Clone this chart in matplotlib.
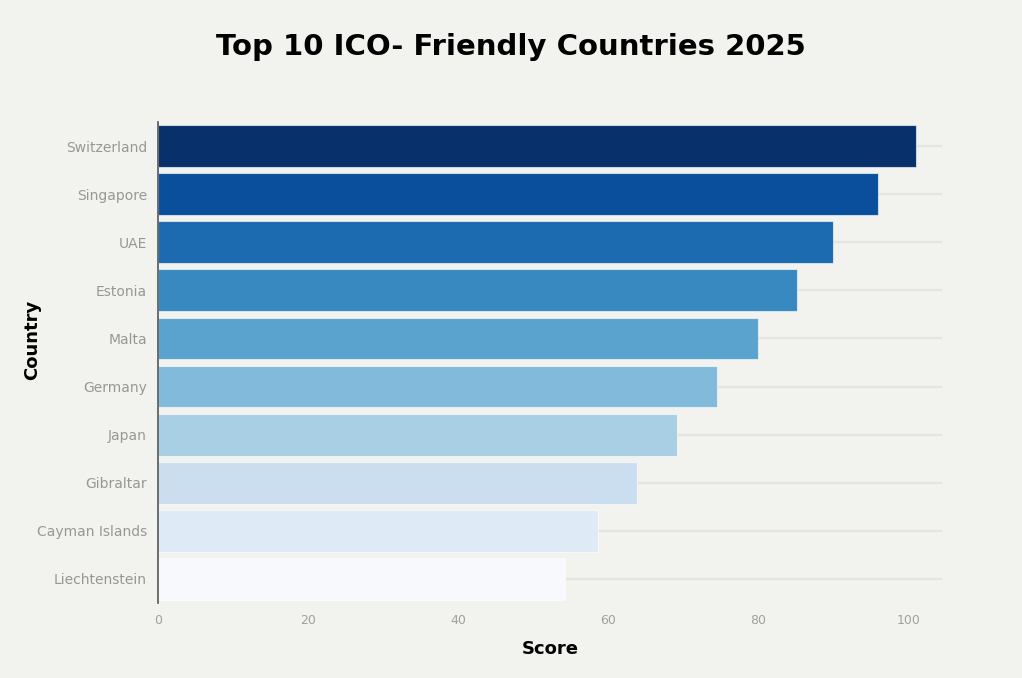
import matplotlib
matplotlib.use("Agg")
import matplotlib.pyplot as plt
import numpy as np

countries = ["Switzerland", "Singapore", "UAE", "Estonia", "Malta", "Germany",
             "Japan", "Gibraltar", "Cayman Islands", "Liechtenstein"]
scores = [101.0, 96.0, 90.0, 85.2, 80.0, 74.5, 69.2, 63.9, 58.6, 54.3]
colors = ["#08306b", "#0a4f9c", "#1c6aaf", "#3989c1", "#5aa3cf",
          "#82badb", "#a9cfe5", "#cadeef", "#deebf7", "#f7f9fd"]
xticks = [0, 20, 40, 60, 80, 100]

bg = "#f2f2ee"
fig = plt.figure(figsize=(10.22, 6.78), dpi=100, facecolor=bg)
ax = fig.add_axes([158/1022, 1-603/678, (942-158)/1022, (603-122)/678])
ax.set_facecolor(bg)

y = np.arange(len(countries))
for yi in y:
    ax.axhline(yi, color="#e4e4e0", lw=1.6, zorder=0)
ax.barh(y, scores, height=0.87, color=colors, edgecolor=(1, 1, 1, 0.6), linewidth=0.8, zorder=2)

ax.set_ylim(len(countries) - 0.5, -0.5)
ax.set_xlim(0, 104.5)
ax.set_yticks(y)
ax.set_yticklabels(countries, fontsize=10, color="#979797", fontweight="normal", family="DejaVu Sans")
ax.set_xticks(xticks)
ax.set_xticklabels([str(t) for t in xticks], fontsize=9, color="#a0a0a0")
ax.tick_params(axis="both", length=0)
ax.tick_params(axis="y", pad=8)
ax.tick_params(axis="x", pad=8)

for s in ["top", "right", "bottom"]:
    ax.spines[s].set_visible(False)
ax.spines["left"].set_color("#555555")
ax.spines["left"].set_linewidth(1.2)

ax.set_xlabel("Score", fontsize=13, fontweight="bold", color="black", labelpad=9)
fig.text(32/1022, 1-340/678, "Country", rotation=90, fontsize=13, fontweight="bold",
         ha="center", va="center")
fig.text(511/1022, 1-47/678, "Top 10 ICO- Friendly Countries 2025", fontsize=21,
         fontweight="bold", ha="center", va="center")

fig.savefig("out.png", dpi=100, facecolor=bg)
